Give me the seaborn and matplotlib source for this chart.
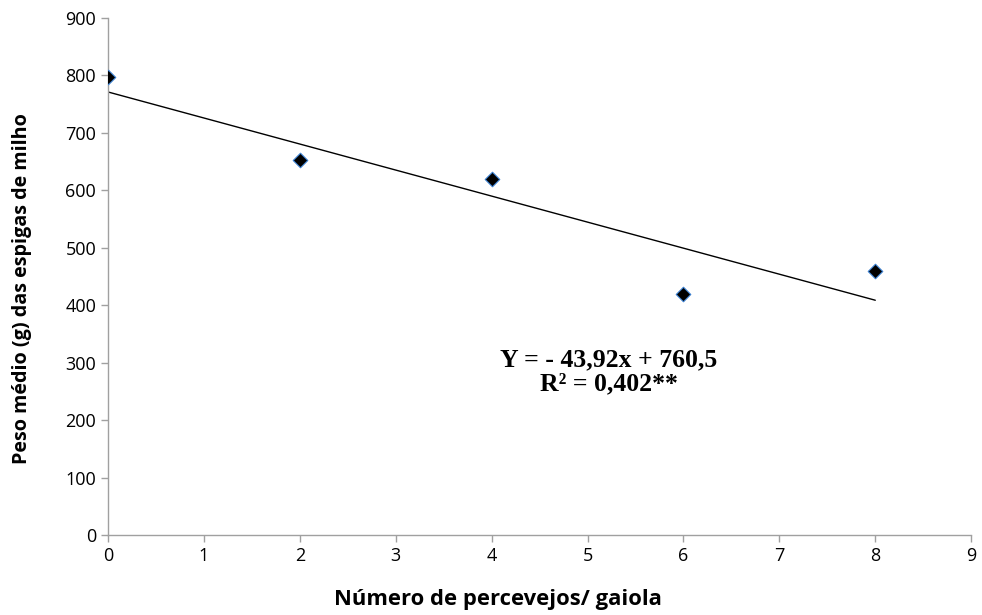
import pandas as pd
import seaborn as sns
import matplotlib.pyplot as plt

percevejos = [0, 2, 4, 6, 8]
peso = [797, 652, 620, 420, 460]

x_ticks = list(range(0, 10))
y_ticks = list(range(0, 1000, 100))

def main():
    sns.set_theme(style="white")
    plt.rcParams['font.family'] = ['Open Sans', 'DejaVu Sans']
    data = pd.DataFrame({"x": percevejos, "y": peso})

    fig, ax = plt.subplots(figsize=(9.82, 6.15), dpi=100)
    fig.subplots_adjust(left=0.110, right=0.989, top=0.971, bottom=0.130)

    sns.regplot(data=data, x="x", y="y", ci=None, truncate=True, ax=ax,
                marker="D",
                scatter_kws={"s": 55, "color": "black", "edgecolor": "#3a7fd0",
                             "linewidths": 0.8, "alpha": 1, "zorder": 3},
                line_kws={"color": "black", "linewidth": 1.0})

    ax.set_xlim(0, 9)
    ax.set_ylim(0, 900)
    ax.set_xticks(x_ticks)
    ax.set_yticks(y_ticks)
    ax.tick_params(axis="both", labelsize=13, colors="black", length=5,
                   width=1, direction="out", bottom=True, left=True)
    ax.tick_params(axis="both", color="#a0a0a0")
    for s in ["top", "right"]:
        ax.spines[s].set_visible(False)
    for s in ["left", "bottom"]:
        ax.spines[s].set_color("#a0a0a0")
        ax.spines[s].set_linewidth(1)

    ax.set_xlabel("Número de percevejos/ gaiola", fontsize=15.8, fontweight="bold", color="black")
    ax.set_ylabel("Peso médio (g) das espigas de milho", fontsize=14.2, fontweight="bold", color="black")
    ax.xaxis.set_label_coords(0.452, -0.105)
    ax.yaxis.set_label_coords(-0.088, 0.476)

    ax.text(5.22, 284, "Y = - 43,92x + 760,5\nR² = 0,402**", ha="center", va="center",
            fontsize=18.5, fontweight="bold", family=["Liberation Serif", "DejaVu Serif"],
            linespacing=1.05, color="black")

    plt.savefig("out.png", dpi=100)
    plt.close()

if __name__ == "__main__":
    main()
